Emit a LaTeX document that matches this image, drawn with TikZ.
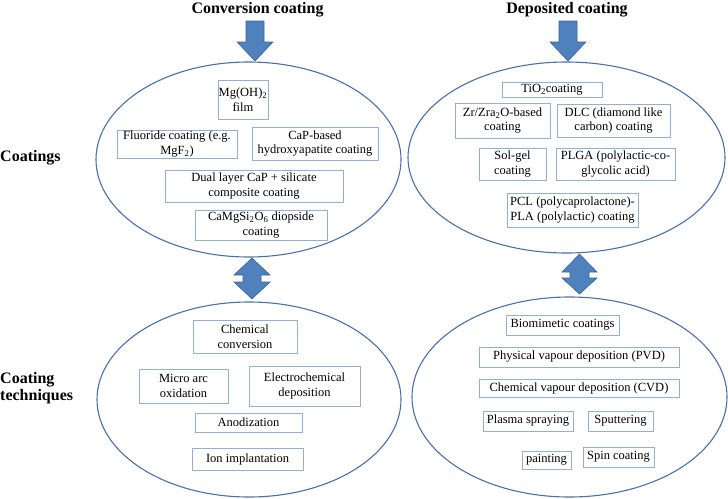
\documentclass[tikz,border=0pt]{standalone}
\usepackage{fontspec}
\setmainfont{Liberation Serif}
\definecolor{arrfill}{HTML}{4F81BD}
\definecolor{arrdraw}{HTML}{3A659A}
\definecolor{ellcol}{HTML}{4A70A6}
\definecolor{boxcol}{HTML}{95AFCF}
\tikzset{
  bx/.style={draw=boxcol, line width=0.8pt, inner sep=0pt, align=center,
    font=\fontsize{12.5}{14.5}\selectfont, text=black},
  ell/.style={draw=ellcol, line width=1.1pt},
  blk/.style={fill=arrfill, draw=arrdraw, line width=0.6pt},
  ttl/.style={font=\fontsize{16}{17}\selectfont\bfseries, inner sep=0pt},
}
\newcommand{\bxw}[4]{minimum width=#1pt, minimum height=#2pt}
\begin{document}
\begin{tikzpicture}[x=1pt,y=-1pt]
\useasboundingbox (0,0) rectangle (728,498);
% titles
\node[ttl, anchor=base] (t1) at (257.5,13) {Conversion coating};
\node[ttl, anchor=base] (t2) at (567,13) {Deposited coating};
\node[ttl, anchor=base west] (lc) at (0,161) {Coatings};
\node[ttl, anchor=west, align=left, font=\fontsize{16}{17}\selectfont\bfseries] (lt) at (0,388) {Coating\\techniques};
% ellipses
\draw[ell] (248.5,159.5) ellipse [x radius=152.5, y radius=97.5];
\draw[ell] (566.5,157.5) ellipse [x radius=158.5, y radius=95.5];
\draw[ell] (249,399.5) ellipse [x radius=152, y radius=97.5];
\draw[ell] (569.5,397) ellipse [x radius=157.5, y radius=100];
% down arrows
\draw[blk] (246,21) -- (264,21) -- (264,42) -- (273,42) -- (255,61) -- (237,42) -- (246,42) -- cycle;
\draw[blk] (559,21) -- (577,21) -- (577,42) -- (586,42) -- (568,61) -- (550,42) -- (559,42) -- cycle;
% double arrows
\draw[blk] (252,258) -- (270,275) -- (261,275) -- (261,282) -- (270,282) -- (252,299) -- (234,282) -- (243,282) -- (243,275) -- (234,275) -- cycle;
\draw[blk] (579.5,254) -- (597,272) -- (589,272) -- (589,278) -- (597,278) -- (579.5,294) -- (562,278) -- (570,278) -- (570,272) -- (562,272) -- cycle;
% top-left boxes
\node[bx, minimum width=50pt, minimum height=39pt] (mgoh) at (243,99.5) {Mg(OH)\textsubscript{2}\\film};
\node[bx, minimum width=120pt, minimum height=28pt] (fluor) at (177,144) {Fluoride coating (e.g.\\MgF\textsubscript{2})};
\node[bx, minimum width=126pt, minimum height=33pt] (capb) at (315,143.5) {CaP-based\\hydroxyapatite coating};
\node[bx, minimum width=178pt, minimum height=32pt] (dual) at (254,186) {Dual layer CaP + silicate\\composite coating};
\node[bx, minimum width=132pt, minimum height=30pt] (camg) at (261,225) {CaMgSi\textsubscript{2}O\textsubscript{6} diopside\\coating};
% top-right boxes
\node[bx, minimum width=100pt, minimum height=15pt] (tio) at (552,89.5) {TiO\textsubscript{2}coating};
\node[bx, minimum width=95pt, minimum height=35pt] (zr) at (502.5,120.5) {Zr/Zra\textsubscript{2}O-based\\coating};
\node[bx, minimum width=113pt, minimum height=33pt] (dlc) at (613.5,120.5) {DLC (diamond like\\carbon) coating};
\node[bx, minimum width=67pt, minimum height=32pt] (sol) at (512.5,164) {Sol-gel\\coating};
\node[bx, minimum width=119pt, minimum height=32pt] (plga) at (615.5,164) {PLGA (polylactic-co-\\glycolic acid)};
\node[bx, minimum width=131pt, minimum height=34pt] (pcl) at (572.5,210) {PCL (polycaprolactone)-\\PLA (polylactic) coating};
% bottom-left boxes
\node[bx, minimum width=104pt, minimum height=33pt] (chem) at (245,336.5) {Chemical\\conversion};
\node[bx, minimum width=89pt, minimum height=34pt] (mao) at (183.5,386) {Micro arc\\oxidation};
\node[bx, minimum width=111pt, minimum height=40pt] (ecd) at (304.5,386) {Electrochemical\\deposition};
\node[bx, minimum width=107pt, minimum height=19pt] (anod) at (248.5,422.5) {Anodization};
\node[bx, minimum width=111pt, minimum height=22pt] (ion) at (247.5,459) {Ion implantation};
% bottom-right boxes
\node[bx, minimum width=113pt, minimum height=20pt] (bio) at (562.5,325) {Biomimetic coatings};
\node[bx, minimum width=200pt, minimum height=20pt] (pvd) at (579,357) {Physical vapour deposition (PVD)};
\node[bx, minimum width=200pt, minimum height=18pt] (cvd) at (579,388) {Chemical vapour deposition (CVD)};
\node[bx, minimum width=90pt, minimum height=20pt] (plasma) at (528,421) {Plasma spraying};
\node[bx, minimum width=65pt, minimum height=20pt] (sput) at (620.5,421) {Sputtering};
\node[bx, minimum width=49pt, minimum height=18pt] (paint) at (546.5,460) {painting};
\node[bx, minimum width=71pt, minimum height=20pt] (spin) at (618.5,457) {Spin coating};
\end{tikzpicture}
\end{document}
